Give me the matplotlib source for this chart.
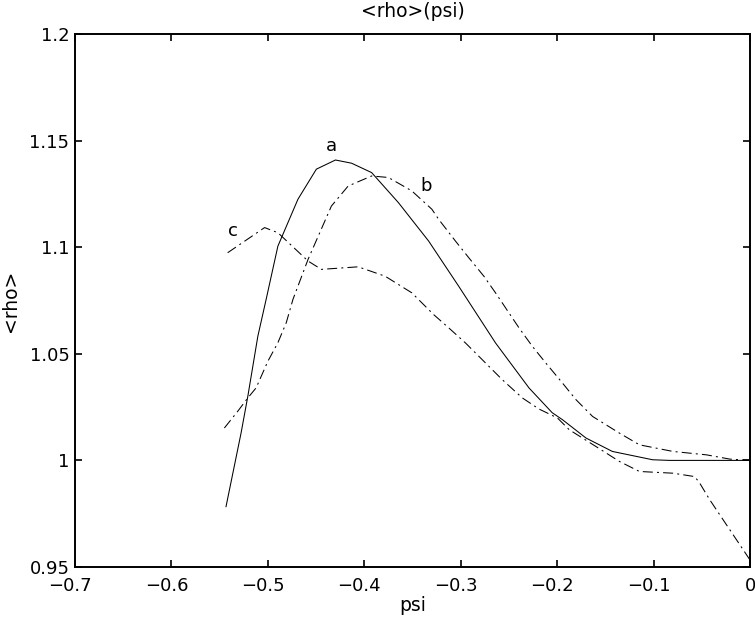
import matplotlib
matplotlib.use("Agg")
import matplotlib.pyplot as plt
import matplotlib.transforms as mtransforms

plt.rcParams['font.family'] = ['DejaVu Sans']

# curve a (solid)
psi_a = [-0.5434, -0.5278, -0.5208, -0.5104, -0.5018, -0.4896, -0.4688, -0.4497,
         -0.4299, -0.4132, -0.3924, -0.3646, -0.3333, -0.3021, -0.2639, -0.2292,
         -0.2052, -0.1945, -0.1701, -0.1427, -0.1010, -0.0833, 0.0]
rho_a = [0.9783, 1.0128, 1.0300, 1.0582, 1.0755, 1.1005, 1.1225, 1.1366,
         1.1409, 1.1394, 1.1350, 1.1209, 1.1029, 1.0817, 1.0551, 1.0340,
         1.0224, 1.0191, 1.0105, 1.0042, 1.0003, 1.0000, 1.0000]

# curve b (dash-dot)
psi_b = [-0.5451, -0.5313, -0.5208, -0.5122, -0.5000, -0.4896, -0.4809, -0.4740,
         -0.4583, -0.4341, -0.4167, -0.3924, -0.3750, -0.3507, -0.3299, -0.3229,
         -0.3055, -0.2917, -0.2760, -0.2639, -0.2500, -0.2396, -0.2257, -0.2118,
         -0.1945, -0.1805, -0.1632, -0.1354, -0.1146, -0.0799, -0.0451, -0.0208, 0.0]
rho_b = [1.0152, 1.0230, 1.0293, 1.0340, 1.0465, 1.0552, 1.0646, 1.0755,
         1.0943, 1.1193, 1.1287, 1.1334, 1.1327, 1.1264, 1.1178, 1.1131,
         1.1029, 1.0951, 1.0864, 1.0786, 1.0692, 1.0622, 1.0535, 1.0457,
         1.0363, 1.0285, 1.0206, 1.0128, 1.0073, 1.0042, 1.0026, 1.0006, 1.0000]

# curve c (dash-dot)
psi_c = [-0.5417, -0.5034, -0.4896, -0.4583, -0.4445, -0.4063, -0.3784, -0.3507,
         -0.3281, -0.3125, -0.2951, -0.2778, -0.2570, -0.2361, -0.2188, -0.1997,
         -0.1875, -0.1597, -0.1354, -0.1146, -0.0799, -0.0573, -0.0521, -0.0417,
         -0.0278, -0.0139, 0.0]
rho_c = [1.0974, 1.1092, 1.1068, 1.0935, 1.0896, 1.0908, 1.0864, 1.0786,
         1.0684, 1.0622, 1.0551, 1.0473, 1.0379, 1.0293, 1.0241, 1.0199,
         1.0144, 1.0065, 0.9995, 0.9948, 0.9940, 0.9924, 0.9893, 0.9815,
         0.9721, 0.9627, 0.9533]

curve_labels = ['a', 'b', 'c']
label_pos = [(-0.4344, 1.1474), (-0.3354, 1.1286), (-0.5365, 1.1074)]

xticks = [-0.7, -0.6, -0.5, -0.4, -0.3, -0.2, -0.1, 0]
xticklabels = ['\u22120.7', '\u22120.6', '\u22120.5', '\u22120.4', '\u22120.3', '\u22120.2', '\u22120.1', '0']
yticks = [0.95, 1.0, 1.05, 1.1, 1.15, 1.2]
yticklabels = ['0.95', '1', '1.05', '1.1', '1.15', '1.2']

fig = plt.figure(figsize=(7.55, 6.25), dpi=100)
ax = fig.add_axes([75/755, 58/625, 675/755, 533/625])

lw = 0.75
dashdot = (0, (9.6, 4, 1.9, 4))
ax.plot(psi_a, rho_a, color='black', lw=lw, linestyle='-')
ax.plot(psi_b, rho_b, color='black', lw=lw, linestyle=dashdot)
ax.plot(psi_c, rho_c, color='black', lw=lw, linestyle=dashdot)

for lab, (px, py) in zip(curve_labels, label_pos):
    ax.text(px, py, lab, fontsize=13, ha='center', va='center')

ax.set_xlim(-0.7, 0)
ax.set_ylim(0.95, 1.2)
ax.set_xticks(xticks)
ax.set_xticklabels(xticklabels)
ax.set_yticks(yticks)
ax.set_yticklabels(yticklabels)
ax.tick_params(direction='in', top=True, right=True, labelsize=13, length=5, width=1.2)
ax.tick_params(axis='x', pad=7)
ax.tick_params(axis='y', pad=4)
for s in ax.spines.values():
    s.set_linewidth(1.4)

offset = mtransforms.ScaledTranslation(-5/100, 0, fig.dpi_scale_trans)
for lbl in ax.get_xticklabels():
    if lbl.get_text().startswith('\u2212'):
        lbl.set_transform(lbl.get_transform() + offset)

ax.set_xlabel('psi', fontsize=13.5, labelpad=1)
ax.set_ylabel('<rho>', fontsize=13.5, labelpad=7)
ax.set_title('<rho>(psi)', fontsize=13.5, pad=12)

fig.savefig('out.png', dpi=100)
